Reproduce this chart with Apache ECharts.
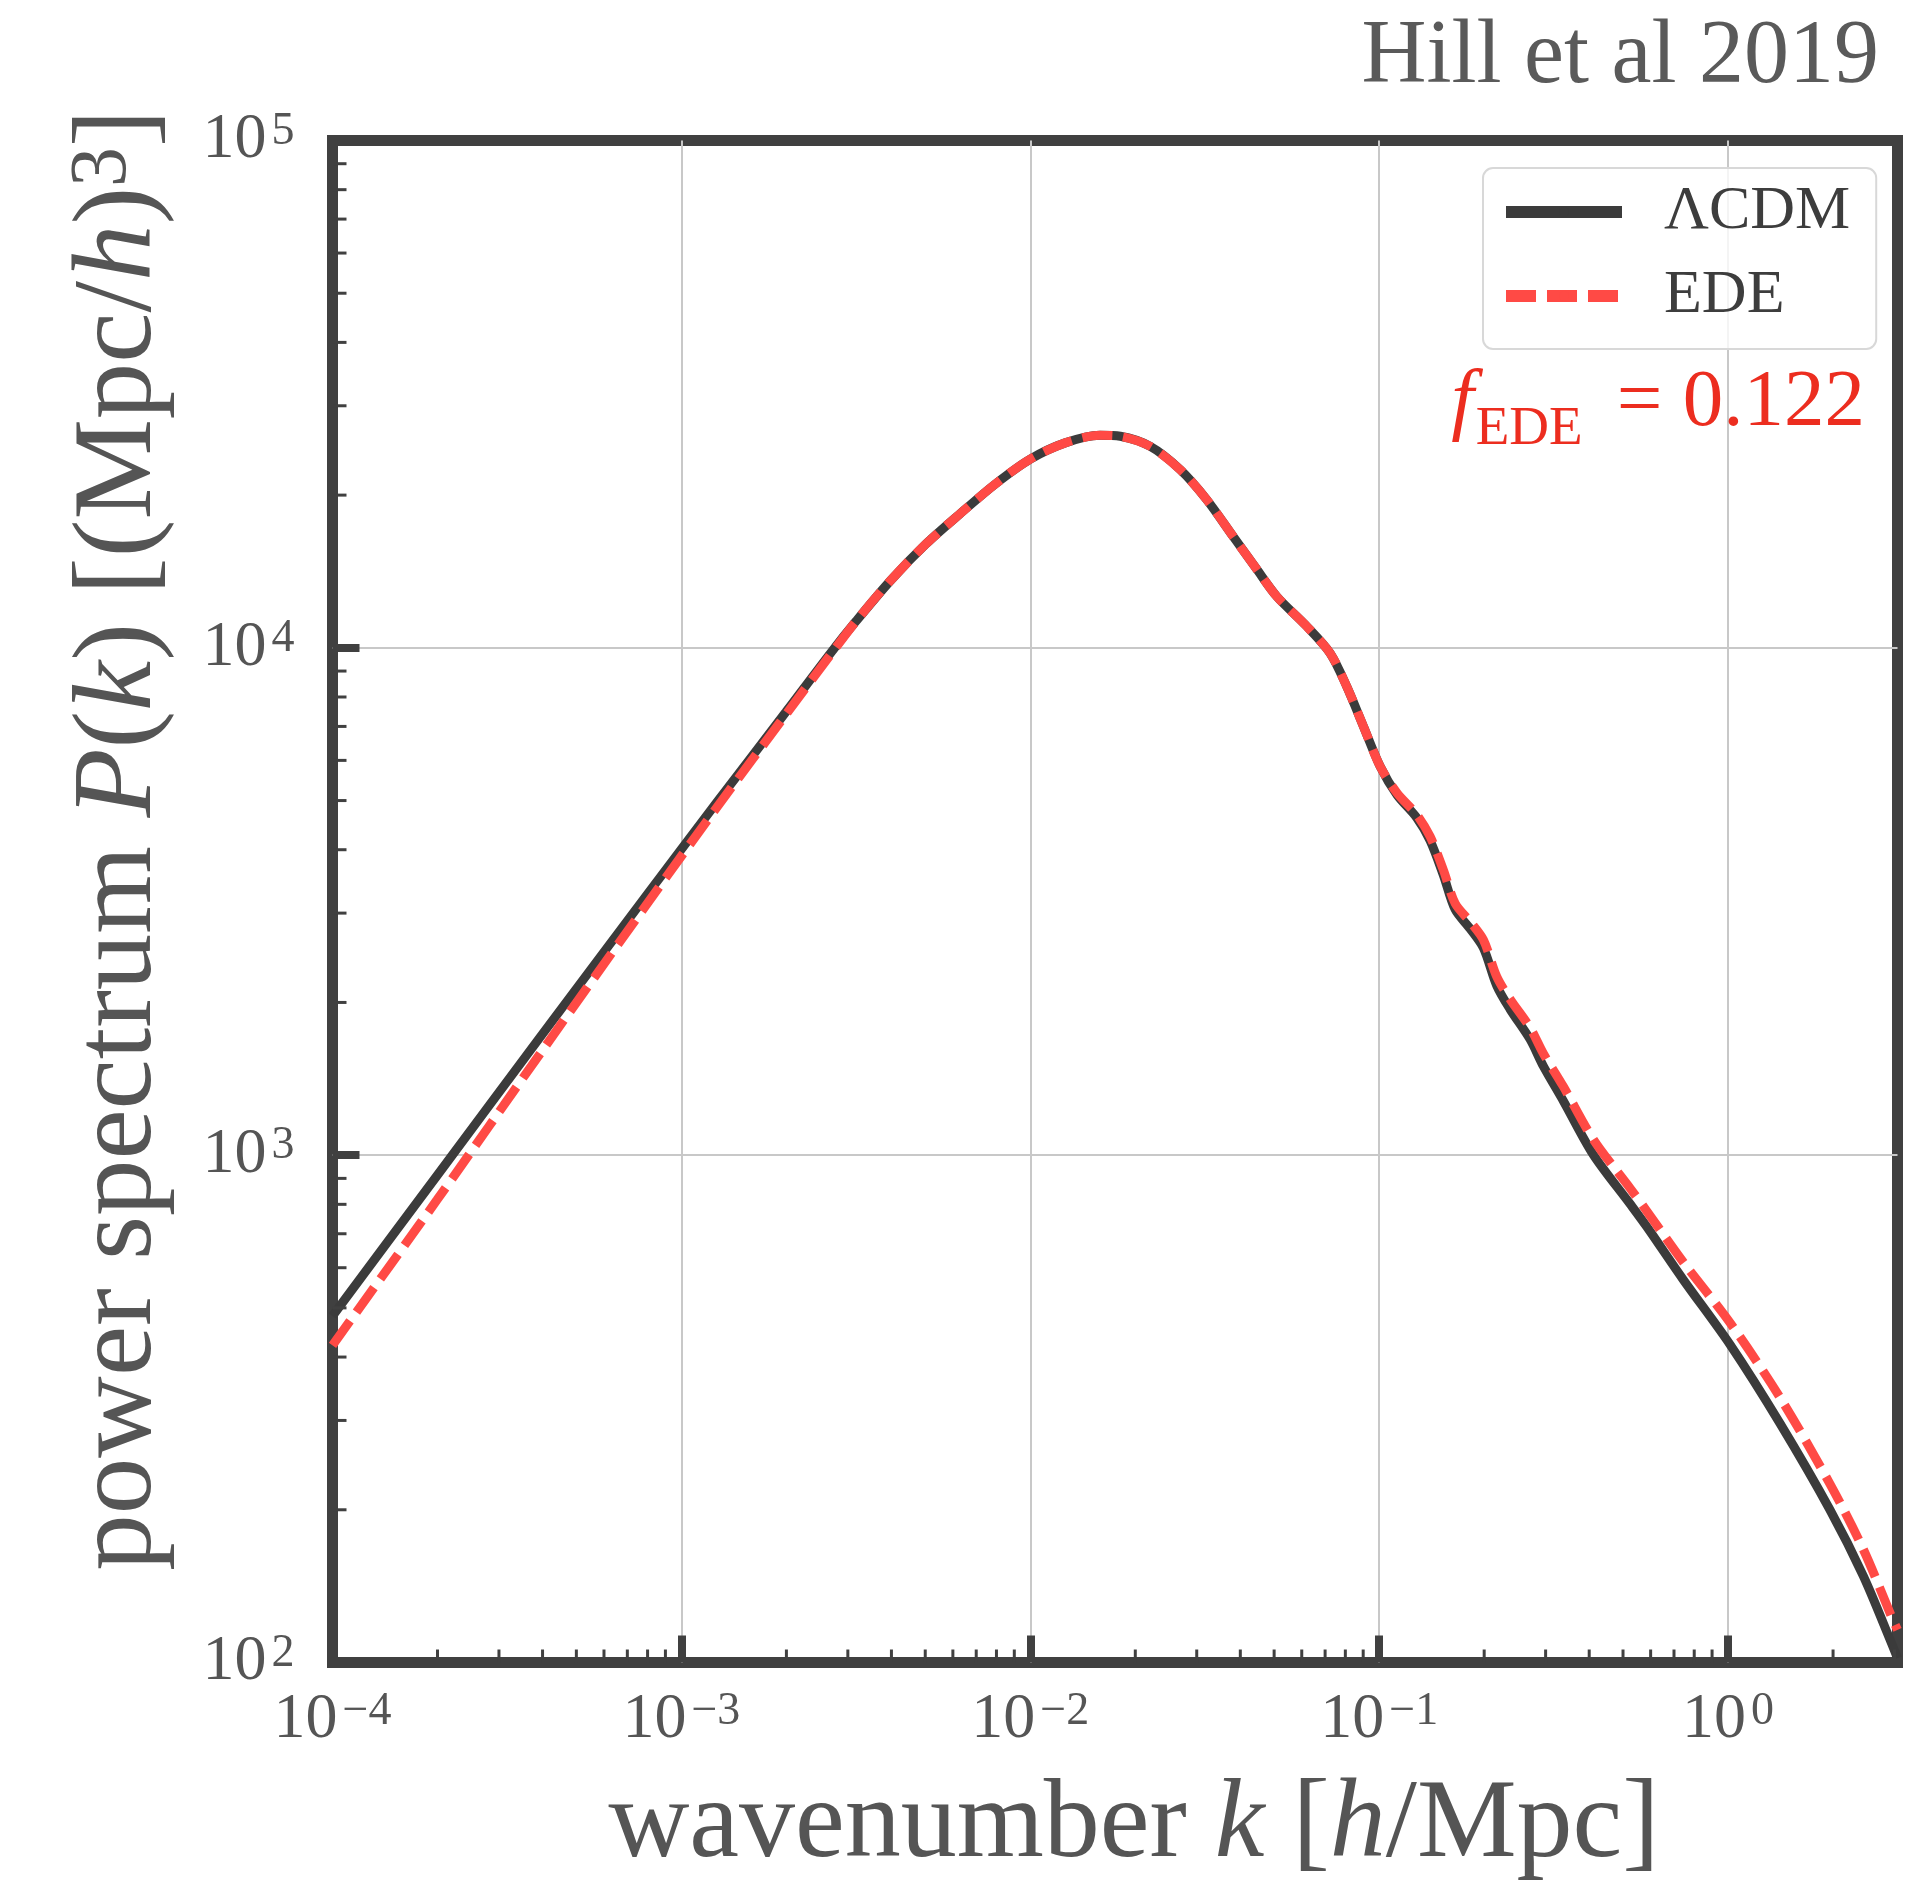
<!DOCTYPE html>
<html>
<head>
<meta charset="utf-8">
<script src="https://cdn.jsdelivr.net/npm/echarts@6/dist/echarts.min.js"></script>
<style>
html,body{margin:0;padding:0;background:#ffffff;}
#chart{width:1921px;height:1885px;}
</style>
</head>
<body>
<div id="chart"></div>
<script>
// ---- data ----
const kValues = [1.0e-4, 1.995e-4, 3.981e-4, 7.943e-4, 1.259e-3, 1.995e-3, 2.692e-3, 3.162e-3, 3.981e-3, 5.012e-3,
  6.310e-3, 7.943e-3, 1.0e-2, 1.259e-2, 1.585e-2, 1.811e-2, 2.208e-2, 2.692e-2, 3.206e-2, 3.819e-2,
  4.467e-2, 5.093e-2, 6.209e-2, 7.244e-2, 8.072e-2, 9.016e-2, 0.1007, 0.1125, 0.1282, 0.1400,
  0.1528, 0.1652, 0.1824, 0.1991, 0.2173, 0.2371, 0.2710, 0.2958, 0.3373, 0.4111,
  0.5236, 0.5848, 0.7447, 1.014, 1.409, 1.959, 2.443, 2.944, 3.06];
const pLCDM = [482, 912, 1726, 3251, 4943, 7482, 9817, 11272, 13583, 15996,
  18408, 21038, 23550, 25351, 26242, 26122, 24946, 22439, 19588, 16558,
  14256, 12618, 11015, 9750, 8395, 6998, 5834, 5129, 4624, 4169,
  3565, 3048, 2793, 2559, 2158, 1941, 1690, 1496, 1279, 1002,
  802, 723, 568, 423, 296, 200, 148, 109, 102];
const pEDE = [422, 817, 1603, 3119, 4831, 7396, 9750, 11272, 13583, 15996,
  18408, 21038, 23550, 25351, 26242, 26122, 24946, 22439, 19588, 16558,
  14256, 12618, 11015, 9750, 8395, 6998, 5834, 5176, 4688, 4246,
  3648, 3133, 2884, 2655, 2249, 2032, 1782, 1585, 1365, 1074,
  861, 776, 615, 467, 333, 225, 167, 123, 116];
const seriesNames = ['\u039BCDM', 'EDE'];
const xRange = [1e-4, 3.06];
const yRange = [1e2, 1e5];
const xMinorTicks = [2e-4,3e-4,4e-4,5e-4,6e-4,7e-4,8e-4,9e-4,
  2e-3,3e-3,4e-3,5e-3,6e-3,7e-3,8e-3,9e-3,
  2e-2,3e-2,4e-2,5e-2,6e-2,7e-2,8e-2,9e-2,
  0.2,0.3,0.4,0.5,0.6,0.7,0.8,0.9,
  2,3];
const yMinorTicks = [200,300,400,500,600,700,800,900,
  2000,3000,4000,5000,6000,7000,8000,9000,
  20000,30000,40000,50000,60000,70000,80000,90000];
const annotationText = 'Hill et al 2019';
const fedeValue = '0.122';

// ---- styling ----
const FRAME = '#404040';
const GRAYTXT = '#555555';
const RED = '#ff4a45';
const SERIF = '"Liberation Serif", "Times New Roman", serif';

function powLabel(v) {
  const e = Math.log10(v);
  const r = Math.round(e);
  if (Math.abs(e - r) > 1e-6) return '';
  const s = r < 0 ? '\u2212' + (-r) : String(r);
  return '{b|10}{s|' + s + '}';
}
const tickRich = {
  b: {fontFamily: SERIF, fontSize: 64, lineHeight: 64, verticalAlign: 'top', color: GRAYTXT},
  s: {fontFamily: SERIF, fontSize: 46, lineHeight: 36, verticalAlign: 'top', color: GRAYTXT, padding: [0, 0, 0, 5]}
};

const chart = echarts.init(document.getElementById('chart'), null, {renderer: 'canvas'});

const option = {
  animation: false,
  backgroundColor: '#ffffff',
  grid: {
    left: 332.5, right: 23.5, top: 140.5, bottom: 222.5,
    show: true, borderColor: FRAME, borderWidth: 11, backgroundColor: 'transparent'
  },
  xAxis: {
    type: 'log', logBase: 10, min: xRange[0], max: xRange[1],
    axisLine: {show: false},
    axisTick: {show: true, inside: true, length: 27, lineStyle: {color: FRAME, width: 8}},
    axisLabel: {formatter: powLabel, margin: 26, rich: tickRich, showMinLabel: true, showMaxLabel: true},
    splitLine: {show: true, showMinLine: false, showMaxLine: false, lineStyle: {color: '#c8c8c8', width: 2}},
    minorTick: {show: false}
  },
  yAxis: {
    type: 'log', logBase: 10, min: yRange[0], max: yRange[1],
    axisLine: {show: false},
    axisTick: {show: true, inside: true, length: 27, lineStyle: {color: FRAME, width: 8}},
    axisLabel: {formatter: powLabel, margin: 38, rich: tickRich, showMinLabel: true, showMaxLabel: true},
    splitLine: {show: true, showMinLine: false, showMaxLine: false, lineStyle: {color: '#c8c8c8', width: 2}},
    minorTick: {show: false}
  },
  legend: {
    data: [{name: seriesNames[0]}, {name: seriesNames[1]}],
    orient: 'vertical', left: 1483, top: 168,
    padding: [13, 26, 22, 17], itemGap: 22, itemWidth: 116, itemHeight: 12,
    backgroundColor: 'rgba(255,255,255,0.8)', borderColor: '#d8d8d8', borderWidth: 2, borderRadius: 10,
    textStyle: {fontFamily: SERIF, fontSize: 62, lineHeight: 62, color: '#3d3d3d', padding: [0, 0, 0, 37]},
    lineStyle: {width: 12},
    selectedMode: false
  },
  series: [
    {
      name: seriesNames[0], type: 'line',
      data: kValues.map((k, i) => [k, pLCDM[i]]),
      symbol: 'none', showSymbol: false, smooth: 0.3,
      lineStyle: {color: '#3b3b3b', width: 9},
      itemStyle: {color: '#3b3b3b'}, z: 3
    },
    {
      name: seriesNames[1], type: 'line',
      data: kValues.map((k, i) => [k, pEDE[i]]),
      symbol: 'none', showSymbol: false, smooth: 0.3,
      lineStyle: {color: RED, width: 9, type: [30, 11], cap: 'butt'},
      itemStyle: {color: RED}, z: 4
    },
    {
      type: 'custom', name: 'xminor', silent: true, z: 5,
      data: xMinorTicks.map(k => [k, yRange[0]]),
      renderItem: function (params, api) {
        const p = api.coord([api.value(0), api.value(1)]);
        return {type: 'line', shape: {x1: p[0], y1: p[1], x2: p[0], y2: p[1] - 13},
                style: {stroke: FRAME, lineWidth: 3}};
      }
    },
    {
      type: 'custom', name: 'yminor', silent: true, z: 5,
      data: yMinorTicks.map(v => [xRange[0], v]),
      renderItem: function (params, api) {
        const p = api.coord([api.value(0), api.value(1)]);
        return {type: 'line', shape: {x1: p[0], y1: p[1], x2: p[0] + 14, y2: p[1]},
                style: {stroke: FRAME, lineWidth: 3}};
      }
    }
  ],
  graphic: [
    {
      type: 'text', x: 1879, y: 58, z: 10,
      style: {text: annotationText, fontFamily: SERIF, fontSize: 90, fill: '#5a5a5a', align: 'right', verticalAlign: 'middle'}
    },
    {
      type: 'text', x: 1865, y: 363, z: 10,
      style: {
        text: '{f|f}{sub|EDE}{m| = ' + fedeValue + '}',
        align: 'right', verticalAlign: 'top',
        rich: {
          f: {fontFamily: SERIF, fontStyle: 'italic', fontSize: 81, lineHeight: 94, verticalAlign: 'top', fill: '#ec2d1f'},
          sub: {fontFamily: SERIF, fontSize: 55, lineHeight: 94, verticalAlign: 'bottom', fill: '#ec2d1f', padding: [0, 14, 0, 2]},
          m: {fontFamily: SERIF, fontSize: 81, lineHeight: 94, verticalAlign: 'top', fill: '#ec2d1f'}
        }
      }
    },
    {
      type: 'text', x: 1134, y: 1827, z: 10,
      style: {
        text: '{r|wavenumber }{i|k}{r| [}{i|h}{r|/Mpc]}',
        align: 'center', verticalAlign: 'middle',
        rich: {
          r: {fontFamily: SERIF, fontSize: 112, lineHeight: 112, fill: GRAYTXT},
          i: {fontFamily: SERIF, fontStyle: 'italic', fontSize: 112, lineHeight: 112, fill: GRAYTXT}
        }
      }
    },
    {
      type: 'text', x: 120, y: 840, rotation: Math.PI / 2, z: 10,
      style: {
        text: '{r|power spectrum }{i|P}{r|(}{i|k}{r|) [(Mpc/}{i|h}{r|)}{s|3}{r|]}',
        align: 'center', verticalAlign: 'middle',
        rich: {
          r: {fontFamily: SERIF, fontSize: 113, lineHeight: 113, verticalAlign: 'top', fill: GRAYTXT},
          i: {fontFamily: SERIF, fontStyle: 'italic', fontSize: 113, lineHeight: 113, verticalAlign: 'top', fill: GRAYTXT},
          s: {fontFamily: SERIF, fontSize: 80, lineHeight: 50, verticalAlign: 'top', fill: GRAYTXT}
        }
      }
    }
  ]
};
chart.setOption(option);
</script>
</body>
</html>
